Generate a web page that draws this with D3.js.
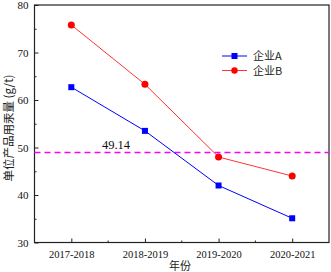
<!DOCTYPE html>
<html><head><meta charset="utf-8">
<script src="https://cdn.jsdelivr.net/npm/d3@7"></script>
<style>body{margin:0;background:#fff}svg{display:block}</style>
</head><body>
<script>
const categories = ["2017-2018","2018-2019","2019-2020","2020-2021"];
const seriesA = [62.7, 53.5, 42.0, 35.1];
const seriesB = [75.8, 63.3, 48.0, 44.0];
const seriesNames = ["企业A","企业B"];
const refValue = 49.14;
const yTicks = [30,40,50,60,70,80];
const yMinor = [35,45,55,65,75];

const W=331,H=272;
const m={l:34.5,r:2,t:5,b:29.5};
const svg=d3.select("body").append("svg").attr("width",W).attr("height",H);
const x=d3.scalePoint().domain(categories).range([m.l,W-m.r]).padding(0.5);
const y=d3.scaleLinear().domain([30,80]).range([H-m.b,m.t]);
const serif="'Liberation Serif','DejaVu Serif',serif";
const cjk="'Noto Sans CJK SC',sans-serif";

// frame
svg.append("rect").attr("x",m.l).attr("y",m.t).attr("width",W-m.r-m.l).attr("height",H-m.b-m.t)
  .attr("fill","none").attr("stroke","#222").attr("stroke-width",1.2);

// y axis
const ya=svg.append("g").attr("transform",`translate(${m.l},0)`)
  .call(d3.axisLeft(y).tickValues(yTicks).tickSize(-4).tickPadding(6).tickFormat(d3.format("d")));
ya.select(".domain").remove();
ya.selectAll("line").attr("stroke","#222");
ya.selectAll("text").attr("font-family",serif).attr("font-size",11).attr("fill","#111");
svg.append("g").attr("transform",`translate(${m.l},0)`)
  .call(d3.axisLeft(y).tickValues(yMinor).tickSize(-2).tickFormat(""))
  .call(g=>{g.select(".domain").remove();g.selectAll("line").attr("stroke","#222");});

// x axis
const xa=svg.append("g").attr("transform",`translate(0,${H-m.b})`)
  .call(d3.axisBottom(x).tickSize(-4).tickPadding(8));
xa.select(".domain").remove();
xa.selectAll("line").attr("stroke","#222");
xa.selectAll("text").attr("font-family",serif).attr("font-size",10.5).attr("fill","#111");
const mids=categories.slice(1).map((c,i)=>(x(categories[i])+x(c))/2);
svg.append("g").selectAll("line").data(mids).join("line")
  .attr("x1",d=>d).attr("x2",d=>d).attr("y1",H-m.b).attr("y2",H-m.b-2).attr("stroke","#222");

// axis titles
svg.append("text").attr("x",180).attr("y",269.5).attr("text-anchor","middle")
  .attr("font-family",cjk).attr("font-size",11).attr("fill","#222").text("年份");
svg.append("text").attr("transform",`translate(13,128) rotate(-90)`)
  .attr("text-anchor","middle").attr("font-family",cjk).attr("font-size",11.5).attr("fill","#222")
  .text("单位产品用汞量 (g/t)");

// reference line
svg.append("line").attr("x1",m.l).attr("x2",W-m.r).attr("y1",Math.round(y(refValue))+0.5).attr("y2",Math.round(y(refValue))+0.5)
  .attr("stroke","#ff00ff").attr("stroke-width",1.6).attr("stroke-dasharray","6,4");
svg.append("text").attr("x",116).attr("y",149.3).attr("text-anchor","middle")
  .attr("font-family",serif).attr("font-size",12.5).attr("fill","#111").text(refValue.toFixed(2));

// series
const line=d3.line().x((d,i)=>x(categories[i])).y(d=>y(d));
svg.append("path").datum(seriesB).attr("d",line).attr("fill","none").attr("stroke","#ff3333").attr("stroke-width",1);
svg.append("path").datum(seriesA).attr("d",line).attr("fill","none").attr("stroke","#0000ff").attr("stroke-width",1);
svg.append("g").selectAll("circle").data(seriesB).join("circle")
  .attr("cx",(d,i)=>x(categories[i])).attr("cy",d=>y(d)).attr("r",3.5).attr("fill","#ff0000");
svg.append("g").selectAll("rect").data(seriesA).join("rect")
  .attr("x",(d,i)=>x(categories[i])-3).attr("y",d=>y(d)-3).attr("width",6).attr("height",6).attr("fill","#0000ff");

// legend
const lg=svg.append("g");
[{n:seriesNames[0],c:"#0000ff",lc:"#0000ff",s:"sq",yy:56},{n:seriesNames[1],c:"#ff0000",lc:"#ff3333",s:"ci",yy:70.5}].forEach(o=>{
  lg.append("line").attr("x1",222).attr("x2",247).attr("y1",o.yy).attr("y2",o.yy).attr("stroke",o.lc).attr("stroke-width",1);
  if(o.s==="sq") lg.append("rect").attr("x",231.5).attr("y",o.yy-3).attr("width",6).attr("height",6).attr("fill",o.c);
  else lg.append("circle").attr("cx",234.5).attr("cy",o.yy).attr("r",3.2).attr("fill",o.c);
  lg.append("text").attr("x",253).attr("y",o.yy+4).attr("font-family",cjk).attr("font-size",11).attr("fill","#222").text(o.n);
});
</script>
</body></html>
